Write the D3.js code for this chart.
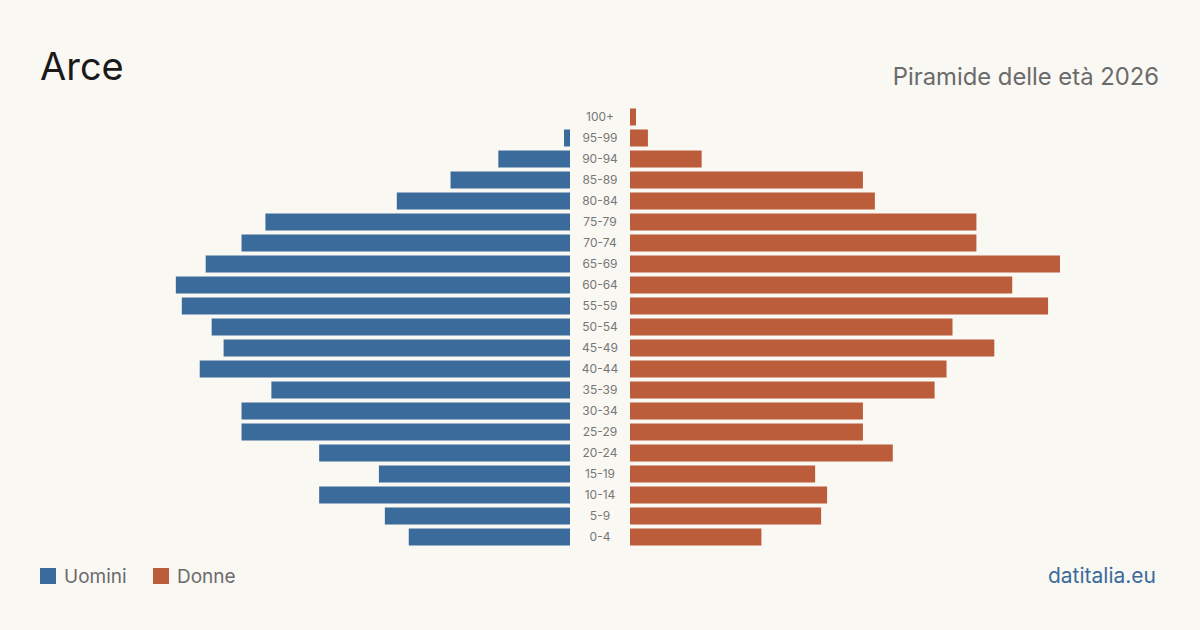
<!DOCTYPE html>
<html><head><meta charset="utf-8">
<script src="https://cdn.jsdelivr.net/npm/d3@7"></script>
<style>
html,body{margin:0;padding:0;background:#faf8f3;}
svg{display:block;font-family:Inter,"Noto Sans",sans-serif;}
</style></head>
<body>
<svg id="chart" width="1200" height="630"></svg>
<script>
const ageGroups = ["100+","95-99","90-94","85-89","80-84","75-79","70-74","65-69","60-64","55-59","50-54","45-49","40-44","35-39","30-34","25-29","20-24","15-19","10-14","5-9","0-4"];
const men   = [0,1,12,20,29,51,55,61,66,65,60,58,62,50,55,55,42,32,42,31,27];
const women = [1,3,12,39,41,58,58,72,64,70,54,61,53,51,39,39,44,31,33,32,22];
const seriesNames = ["Uomini","Donne"];
const title = "Arce";
const subtitle = "Piramide delle età 2026";
const source = "datitalia.eu";

const W = 1200, H = 630;
const colMen = "#3b6b9b", colWomen = "#bb5c3a";
const svg = d3.select("#chart");
svg.append("rect").attr("width",W).attr("height",H).attr("fill","#faf8f3");

const y = d3.scaleBand().domain(ageGroups).range([106.5, 547.5]).paddingInner(4/21).paddingOuter(2/21);
const maxV = 72;
const xR = d3.scaleLinear().domain([0,maxV]).range([630, 1060]);
const xL = d3.scaleLinear().domain([0,maxV]).range([570, 140]);

svg.append("g").selectAll("rect").data(ageGroups).join("rect")
  .attr("x", (d,i)=>xL(men[i])).attr("y", d=>y(d))
  .attr("width",(d,i)=>xL(0)-xL(men[i])).attr("height", y.bandwidth())
  .attr("fill", colMen);
svg.append("g").selectAll("rect").data(ageGroups).join("rect")
  .attr("x", xR(0)).attr("y", d=>y(d))
  .attr("width",(d,i)=>xR(women[i])-xR(0)).attr("height", y.bandwidth())
  .attr("fill", colWomen);

svg.append("g").selectAll("text").data(ageGroups).join("text")
  .attr("x",600).attr("y", d=>y(d)+y.bandwidth()/2)
  .attr("dy","0.35em").attr("text-anchor","middle")
  .attr("font-size",12).attr("fill","#777").text(d=>d);

svg.append("text").attr("x",40).attr("y",80).attr("font-size",38).attr("fill","#1a1a1a").text(title);
svg.append("text").attr("x",1159).attr("y",85).attr("text-anchor","end").attr("font-size",23.8).attr("fill","#6b6b6b").text(subtitle);

const leg = svg.append("g");
const legX = [40,153];
seriesNames.forEach((n,i)=>{
  leg.append("rect").attr("x",legX[i]).attr("y",568).attr("width",16).attr("height",16).attr("fill", i?colWomen:colMen);
  leg.append("text").attr("x",legX[i]+24).attr("y",583).attr("font-size",19).attr("fill","#6b6b6b").text(n);
});
svg.append("text").attr("x",1156).attr("y",583).attr("text-anchor","end").attr("font-size",21).attr("fill","#3b6b9b").text(source);
</script>
</body></html>
